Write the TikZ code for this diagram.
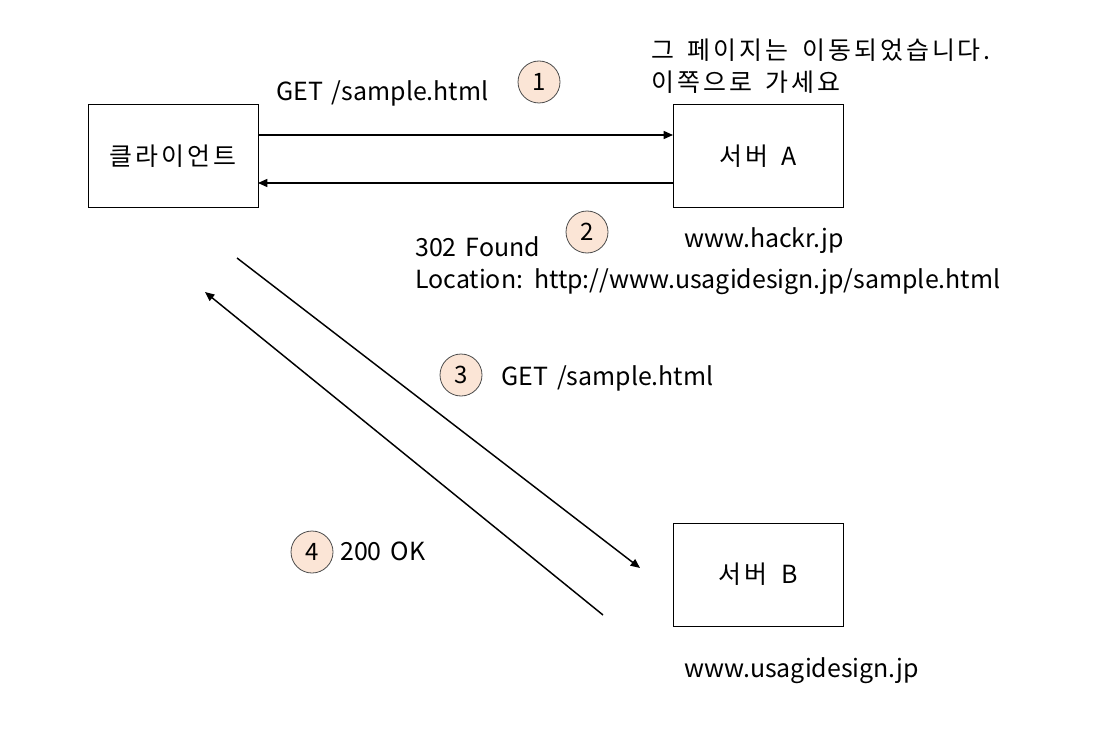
\documentclass[tikz,border=0pt]{standalone}
\usepackage{fontspec}
\setmainfont{Noto Sans CJK KR}[WordSpace=1.6]
\newfontfamily\kr{Noto Sans CJK KR}[LetterSpace=12,WordSpace=1.6]
\usetikzlibrary{arrows.meta}
\definecolor{peach}{HTML}{FBE5D6}
\tikzset{
  box/.style={draw=black, line width=0.75pt, minimum width=127.5pt, minimum height=77.25pt, inner sep=0pt, font=\fontsize{18.7}{22}\selectfont\kr},
  num/.style={circle, draw=black!70, fill=peach, line width=0.6pt, minimum size=31.5pt, inner sep=0pt, font=\fontsize{18}{20}\selectfont},
  lbl/.style={anchor=base west, inner sep=0pt, font=\fontsize{18.7}{22}\selectfont},
  conn/.style={line width=1.1pt, -{Triangle[length=7pt,width=6pt]}},
}
\begin{document}
\begin{tikzpicture}[x=0.75pt,y=-0.75pt]
\useasboundingbox (0,0) rectangle (1094,745);
\node[box] (client) at (173,156.5) {클라이언트};
\node[box] (srvA) at (758,156.5) {서버 A};
\node[box] (srvB) at (758,574.5) {서버 B};

\coordinate (a1s) at (258,135); \coordinate (a1e) at (673,135);
\coordinate (a2s) at (673,183); \coordinate (a2e) at (258,183);
\coordinate (a3s) at (237,258); \coordinate (a3e) at (640,568);
\coordinate (a4s) at (603,615); \coordinate (a4e) at (205,292);
\draw[conn] (a1s) -- (a1e);
\draw[conn] (a2s) -- (a2e);
\draw[conn] (a3s) -- (a3e);
\draw[conn] (a4s) -- (a4e);

\node[num] (n1) at (539,82) {1};
\node[num] (n2) at (587,232) {2};
\node[num] (n3) at (461,375) {3};
\node[num] (n4) at (312,552) {4};

\node[lbl] (t1) at (276,101) {GET /sample.html};
\node[lbl] (t2a) at (651,60) {\kr 그 페이지는 이동되었습니다.};
\node[lbl] (t2b) at (651,92) {\kr 이쪽으로 가세요};
\node[lbl] (hostA) at (684,247) {www.hackr.jp};
\node[lbl] (t3a) at (415,256) {302 Found};
\node[lbl] (t3b) at (415,288) {Location: http://www.usagidesign.jp/sample.html};
\node[lbl] (t4) at (501,385) {GET /sample.html};
\node[lbl] (t5) at (340,560) {200 OK};
\node[lbl] (hostB) at (684,677) {www.usagidesign.jp};
\end{tikzpicture}
\end{document}
